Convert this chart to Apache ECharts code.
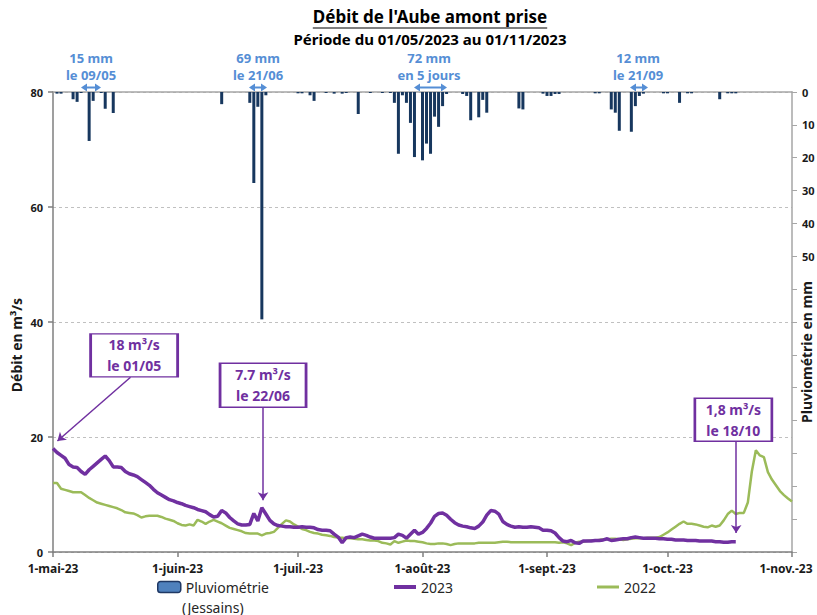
<!DOCTYPE html>
<html><head><meta charset="utf-8">
<script src="https://cdn.jsdelivr.net/npm/echarts@6/dist/echarts.min.js"></script>
<style>html,body{margin:0;padding:0;background:#fff}#c{width:817px;height:615px}</style>
</head><body><div id="c"></div>
<script>
// ---- Data (day index 0 = 1 May 2023) ----
const tickDays = [0, 31, 61, 92, 123, 153, 184];
const tickLabels = ['1-mai-23', '1-juin-23', '1-juil.-23', '1-août-23', '1-sept.-23', '1-oct.-23', '1-nov.-23'];

const flow2023 = [
  18.0,17.3,16.8,16.3,15.2,14.8,14.7,14.0,13.5,14.3,
  14.9,15.5,16.1,16.7,15.9,14.8,14.8,14.7,14.0,13.6,
  13.4,13.1,12.6,12.1,11.6,10.9,10.3,9.9,9.5,9.1,
  8.9,8.6,8.4,8.1,7.9,7.7,7.4,7.2,7.0,6.5,
  6.1,6.2,7.2,6.8,6.0,5.4,4.9,4.7,4.7,4.8,
  6.7,5.4,7.7,6.6,5.5,4.9,4.6,4.5,4.4,4.4,
  4.3,4.3,4.4,4.3,4.3,4.2,3.9,3.8,3.8,3.7,
  3.1,2.6,1.6,2.5,2.6,2.5,2.8,3.1,2.9,2.6,
  2.4,2.4,2.4,2.4,2.4,2.5,3.1,2.9,2.4,3.1,
  3.8,3.1,3.4,4.1,5.0,6.2,6.7,6.8,6.4,5.7,
  5.1,4.7,4.5,4.4,4.2,4.1,4.5,5.2,6.4,7.2,
  7.1,6.6,5.3,4.8,4.5,4.3,4.4,4.3,4.3,4.4,
  4.3,4.2,3.8,3.8,3.7,3.3,2.5,1.9,1.8,2.0,
  1.6,1.5,1.9,1.9,1.9,2.0,2.0,2.1,2.3,2.0,
  2.1,2.2,2.3,2.3,2.5,2.6,2.5,2.4,2.4,2.4,
  2.4,2.3,2.3,2.2,2.2,2.1,2.1,2.1,2.0,2.0,
  2.0,1.9,1.9,1.9,1.9,1.8,1.8,1.7,1.7,1.8,
  1.8
];

const flow2022 = [
  12.0,12.0,11.0,10.8,10.6,10.4,10.4,10.4,9.9,9.4,
  9.0,8.6,8.4,8.2,8.0,7.8,7.6,7.3,6.9,6.8,
  6.7,6.4,6.0,6.2,6.3,6.3,6.3,6.1,5.8,5.6,
  5.4,5.0,4.7,4.6,4.8,4.6,5.6,5.3,4.9,5.3,
  5.6,5.3,5.0,4.6,4.2,4.0,3.8,3.6,3.3,3.2,
  3.2,3.2,2.9,3.2,3.3,3.5,4.2,4.9,5.5,5.3,
  4.8,4.4,4.0,3.8,3.5,3.3,3.2,3.0,2.9,2.8,
  2.6,2.5,2.5,2.4,2.4,2.3,2.2,2.2,2.1,2.0,
  2.0,1.9,1.6,1.5,1.3,1.9,1.6,1.8,2.0,1.9,
  1.9,1.8,1.7,1.5,1.4,1.4,1.5,1.5,1.4,1.2,
  1.4,1.5,1.5,1.5,1.5,1.5,1.6,1.6,1.6,1.6,
  1.6,1.7,1.8,1.8,1.7,1.7,1.7,1.7,1.7,1.7,
  1.7,1.7,1.7,1.7,1.7,1.7,1.6,1.7,1.5,1.2,
  1.6,1.8,1.8,1.9,2.0,2.0,2.1,2.2,2.2,2.3,
  2.3,2.2,2.1,2.2,2.3,2.4,2.4,2.4,2.5,2.5,
  2.5,2.6,3.0,3.4,3.9,4.4,4.9,5.3,4.9,4.9,
  4.8,4.6,4.4,4.3,4.6,4.4,4.6,5.5,6.6,7.2,
  6.6,6.8,6.8,8.6,14.0,17.7,16.8,16.5,13.9,12.6,
  11.6,10.6,9.9,9.3,8.8
];

const rainMm = [
  0,0.5,0.5,0,0,2.2,3.0,0.3,0,14.9,
  2.7,0,0.3,5.1,0,6.4,0,0,0,0,
  0,0,0,0,0,0,0,0,0,0,
  0,0,0,0,0,0,0,0,0,0,
  0,0,3.7,0,0,0,0,0,0,3.3,
  27.7,4.5,69.2,1.0,0,0,0,0,0,0,
  0,0.4,0.4,0,1.0,2.7,0,0,0.3,0,
  0.5,0,0.5,0.3,0,0,6.7,0,0,0.3,
  0,0,0.3,0,0.3,3.3,18.8,1.0,3.3,9.4,
  19.8,0,20.8,15.7,18.8,7.5,10.6,4.3,0.6,0,
  0,0,0.6,1.2,8.6,0,7.7,2.4,6.3,0,
  0,0,0,0,0,0,5.0,5.3,0,0,
  0,0,0.5,1.2,1.2,0.6,0.6,0,0,0,
  0,0,0,0,0,0.4,0.4,0,0,5.3,
  6.3,11.8,0,0,12.1,4.3,1.2,0.5,0,0,
  0,0,0.4,0.4,0,0,3.3,0,0.4,0.4,
  0,0,0,0,0,0,2.2,0,0.4,0.4,
  0.4,0,0,0,0,0,0,0,0,0,
  0,0,0,0,0
];

// ---- Annotations ----
const flowNotes = [
  {text: '18 m³/s\nle 01/05', box: [20.2, 34.2], size: [87, 43], from: [19.3, 30.4], to: [1.1, 19.3]},
  {text: '7.7 m³/s\nle 22/06', box: [52.3, 29.0], size: [86, 44], from: [52.3, 25.2], to: [52.3, 9.0]},
  {text: '1,8 m³/s\nle 18/10', box: [169.4, 23.0], size: [77, 43], from: [170.1, 19.5], to: [170.1, 3.3]}
];
const rainNotes = [
  {l1: '15 mm', l2: 'le 09/05', cx: 91, a: [81, 101]},
  {l1: '69 mm', l2: 'le 21/06', cx: 258, a: [249, 267]},
  {l1: '72 mm', l2: 'en 5 jours', cx: 429, a: [414, 447]},
  {l1: '12 mm', l2: 'le 21/09', cx: 638, a: [630, 648]}
];

const PURPLE = '#7030A0', GREEN = '#9BBB59', NAVY = '#17375E', BLUE = '#558ED5';
const FONT = 'Noto Sans';

const chart = echarts.init(document.getElementById('c'), null, {renderer: 'svg'});

const title = "Débit de l'Aube amont prise";
const cv = document.createElement('canvas').getContext('2d');
cv.font = 'bold 17px "' + FONT + '"';
const tw = cv.measureText(title).width;
const titleCx = 430;

const graphics = [
  {type: 'text', x: titleCx, y: 16, style: {text: title, font: 'bold 17px "' + FONT + '"', fill: '#000', align: 'center', verticalAlign: 'middle'}},
  {type: 'line', shape: {x1: titleCx - tw / 2, y1: 28, x2: titleCx + tw / 2, y2: 28}, style: {stroke: '#000', lineWidth: 1.2}},
  {type: 'text', x: titleCx, y: 38.5, style: {text: 'Période du 01/05/2023 au 01/11/2023', font: 'bold 15px "' + FONT + '"', fill: '#000', align: 'center', verticalAlign: 'middle'}},
  {type: 'text', x: 182, y: 607, style: {text: '(Jessains)', font: '14px "' + FONT + '"', fill: '#262626', align: 'left', verticalAlign: 'middle'}},
  {type: 'text', x: 16, y: 345, rotation: Math.PI / 2, style: {text: 'Débit en m³/s', font: 'bold 14px "' + FONT + '"', fill: '#1a1a1a', align: 'center', verticalAlign: 'middle'}},
  {type: 'text', x: 806, y: 352, rotation: Math.PI / 2, style: {text: 'Pluviométrie en mm', font: 'bold 14px "' + FONT + '"', fill: '#1a1a1a', align: 'center', verticalAlign: 'middle'}}
];
rainNotes.forEach(n => {
  graphics.push({type: 'text', x: n.cx, y: 58, style: {text: n.l1, font: 'bold 13px "' + FONT + '"', fill: BLUE, align: 'center', verticalAlign: 'middle'}});
  graphics.push({type: 'text', x: n.cx, y: 74.5, style: {text: n.l2, font: 'bold 13px "' + FONT + '"', fill: BLUE, align: 'center', verticalAlign: 'middle'}});
  const y = 87.5, x1 = n.a[0], x2 = n.a[1];
  graphics.push({type: 'line', shape: {x1: x1 + 4, y1: y, x2: x2 - 4, y2: y}, style: {stroke: BLUE, lineWidth: 2}});
  graphics.push({type: 'polygon', shape: {points: [[x1, y], [x1 + 6, y - 4], [x1 + 6, y + 4]]}, style: {fill: BLUE}});
  graphics.push({type: 'polygon', shape: {points: [[x2, y], [x2 - 6, y - 4], [x2 - 6, y + 4]]}, style: {fill: BLUE}});
});

const axisColor = '#7f7f7f';
const lblStyle = {fontWeight: 'bold', fontSize: 11, color: '#1a1a1a', fontFamily: FONT};
const legText = {fontSize: 14, color: '#262626'};
const lastTick = tickDays[tickDays.length - 1];

const option = {
  animation: false,
  textStyle: {fontFamily: FONT},
  grid: {left: 53, right: 25, top: 92, bottom: 63, outerBoundsMode: 'none', containLabel: false},
  graphic: graphics,
  legend: [
    {left: 157, top: 580, padding: 0, itemWidth: 23, itemHeight: 11,
     data: [{name: 'Pluviométrie (Jessains)', itemStyle: {color: '#4F81BD', borderColor: '#1F3864', borderWidth: 1.5}}],
     formatter: () => 'Pluviométrie', textStyle: legText},
    {left: 394, top: 580, padding: 0, itemWidth: 22, itemHeight: 4, icon: 'rect', data: ['2023'], textStyle: legText},
    {left: 597, top: 580, padding: 0, itemWidth: 22, itemHeight: 3, icon: 'rect', data: ['2022'], textStyle: legText}
  ],
  xAxis: [
    {type: 'value', min: 0, max: 184, position: 'bottom',
     axisLine: {onZero: false, lineStyle: {color: axisColor, width: 1.5}},
     axisTick: {show: true, customValues: tickDays, length: 5, lineStyle: {color: axisColor, width: 1.5}},
     axisLabel: {customValues: tickDays, margin: 10, fontSize: 12, fontWeight: 'bold', color: '#1a1a1a',
       formatter: v => {
         const t = tickLabels[tickDays.indexOf(v)];
         return v === lastTick ? '{last|' + t + '}' : t;
       },
       rich: {last: {fontSize: 12, fontWeight: 'bold', color: '#1a1a1a', padding: [0, 12, 0, 0]}}},
     splitLine: {show: false}},
    {type: 'value', min: 0, max: 184, position: 'top',
     axisLine: {show: true, onZero: false, lineStyle: {color: '#a6a6a6', width: 1.5}},
     axisTick: {show: false}, axisLabel: {show: false}, splitLine: {show: false}}
  ],
  yAxis: [
    {type: 'value', min: 0, max: 80, interval: 20, position: 'left',
     axisLine: {show: true, onZero: false, lineStyle: {color: axisColor, width: 1.5}},
     axisTick: {show: true, length: 5, lineStyle: {color: axisColor, width: 1.5}},
     axisLabel: Object.assign({margin: 10}, lblStyle),
     splitLine: {show: true, lineStyle: {color: '#c0c0c0', type: [3, 3], width: 1}}},
    {type: 'value', min: 0, max: 140, interval: 10, inverse: true, position: 'right',
     axisLine: {show: true, onZero: false, lineStyle: {color: '#a6a6a6', width: 1.5}},
     axisTick: {show: true, length: 5, lineStyle: {color: '#a6a6a6', width: 1}},
     axisLabel: Object.assign({margin: 10, formatter: v => (v <= 50 ? String(v) : '')}, lblStyle),
     splitLine: {show: false}}
  ],
  series: [
    {name: 'Pluviométrie (Jessains)', type: 'bar', xAxisIndex: 1, yAxisIndex: 1,
     barWidth: 3, itemStyle: {color: NAVY},
     data: rainMm.map((v, i) => [i, v])},
    {name: '2023', type: 'line', xAxisIndex: 0, yAxisIndex: 0, showSymbol: false, symbol: 'none',
     color: PURPLE, lineStyle: {color: PURPLE, width: 3.5}, z: 4,
     data: flow2023.map((v, i) => [i, v]),
     markLine: {silent: true, symbol: ['none', 'arrow'], symbolSize: 8,
       lineStyle: {color: PURPLE, width: 1.5, type: 'solid'}, label: {show: false},
       data: flowNotes.map(n => [{coord: n.from}, {coord: n.to}])},
     markPoint: {silent: true, symbol: 'rect',
       itemStyle: {color: '#fff', borderColor: PURPLE, borderWidth: 2},
       label: {show: true, position: 'inside', formatter: '{b}', color: PURPLE, fontWeight: 'bold', fontSize: 14, lineHeight: 21},
       data: flowNotes.map(n => ({name: n.text, coord: n.box, symbolSize: n.size}))}},
    {name: '2022', type: 'line', xAxisIndex: 0, yAxisIndex: 0, showSymbol: false, symbol: 'none',
     color: GREEN, lineStyle: {color: GREEN, width: 2.5}, z: 3,
     data: flow2022.map((v, i) => [i, v])}
  ]
};
chart.setOption(option);
</script></body></html>
